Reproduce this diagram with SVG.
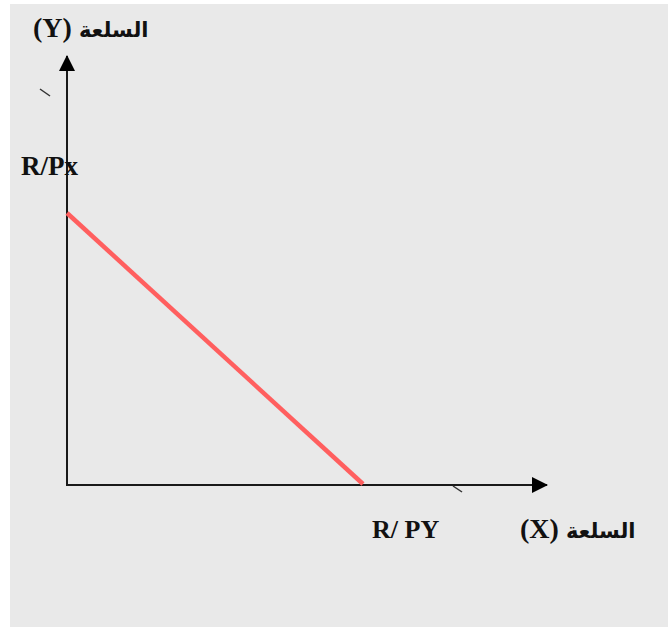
<svg xmlns="http://www.w3.org/2000/svg" width="668" height="627" viewBox="0 0 668 627">
<style>
.lbl{font-family:"Liberation Serif","DejaVu Sans",serif;font-weight:bold;fill:#111}
.ar{font-family:"DejaVu Sans","Liberation Serif",sans-serif;font-size:21px;font-weight:bold}
.axis{stroke:#1a1a1a;stroke-width:2;fill:none}
.tick{stroke:#333;stroke-width:1.5}
</style>
<defs>
<marker id="ah" viewBox="0 0 16 16" refX="15" refY="8" markerWidth="16" markerHeight="16" markerUnits="userSpaceOnUse" orient="auto">
<path d="M0,0 L16,8 L0,16 z" fill="#000"/>
</marker>
</defs>
<rect x="0" y="0" width="668" height="627" fill="#ffffff"/>
<rect x="10" y="4" width="658" height="623" fill="#e9e9e9"/>
<g id="connectors">
<line class="axis" x1="67" y1="486" x2="67" y2="56" marker-end="url(#ah)"/>
<line class="axis" x1="66" y1="485" x2="547" y2="485" marker-end="url(#ah)"/>
<line x1="67" y1="213" x2="363" y2="484" stroke="#ff5f5f" stroke-width="4.5"/>
<line class="tick" x1="40" y1="89" x2="50" y2="96"/>
<line class="tick" x1="453" y1="486" x2="462" y2="492"/>
</g>
<g id="y-label"><text class="lbl" x="33" y="37" font-size="28">(Y) <tspan class="ar">السلعة</tspan></text></g>
<g id="rpx"><text class="lbl" x="21" y="175" font-size="27">R/Px</text></g>
<g id="rpy"><text class="lbl" x="372" y="538" font-size="26">R/ PY</text></g>
<g id="x-label"><text class="lbl" x="520" y="538" font-size="28">(X) <tspan class="ar">السلعة</tspan></text></g>
</svg>
